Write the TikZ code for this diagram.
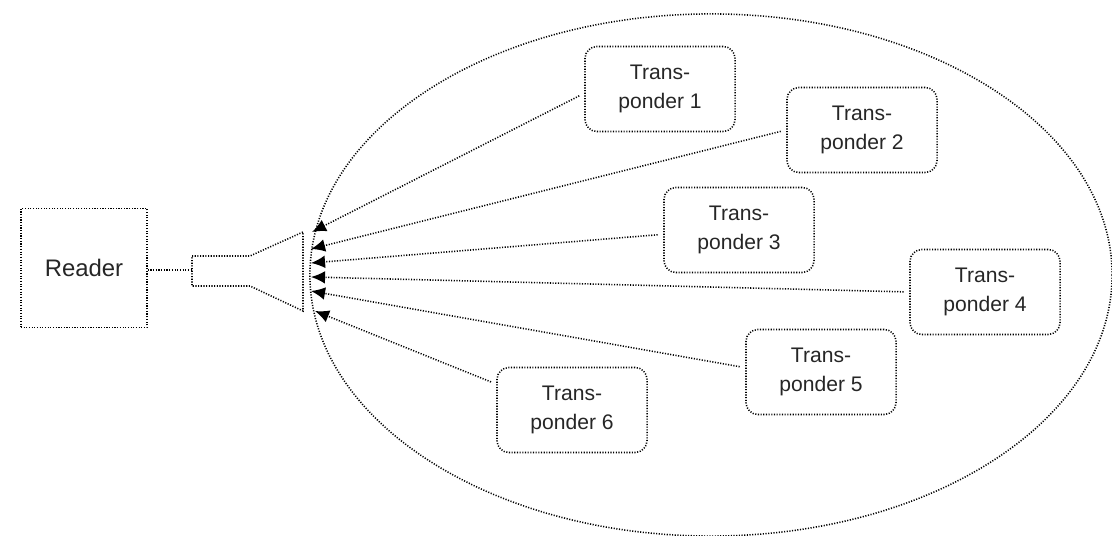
\documentclass[tikz,border=0pt]{standalone}
\usepackage{fontspec}
\setmainfont{Liberation Sans}
\usetikzlibrary{arrows.meta,calc}
\begin{document}
\begin{tikzpicture}[x=0.025cm,y=-0.025cm,
  dotline/.style={draw=black,line width=1.1pt,dash pattern=on 0.8pt off 1.1pt},
  tbox/.style={dotline,rounded corners=0.3cm,minimum width=3.75cm,minimum height=2.125cm,
     align=center,font=\fontsize{15}{21}\selectfont,text=black!85,inner sep=0pt},
  conn/.style={dotline,-{Latex[length=10pt,width=9pt]},shorten <=4pt}]
\useasboundingbox (0,0) rectangle (1112,536);
% field ellipse
\draw[dotline] (711,275) ellipse [x radius=10.025cm, y radius=6.525cm];
% reader
\node[dotline,minimum width=3.15cm,minimum height=2.975cm,font=\fontsize{17}{20}\selectfont,text=black!85]
  (reader) at (84,268) {Reader};
% antenna horn
\draw[dotline] (192,256) -- (250,256) -- (303,232) -- (303,311) -- (250,286) -- (192,286) -- cycle;
\coordinate (hornL) at (192,270);
\draw[dotline] (reader.east |- hornL) -- (hornL);
% transponders
\node[tbox] (T1) at (660,89) {Trans-\\ponder 1};
\node[tbox] (T2) at (862,130) {Trans-\\ponder 2};
\node[tbox] (T3) at (739,230) {Trans-\\ponder 3};
\node[tbox] (T4) at (985,292) {Trans-\\ponder 4};
\node[tbox] (T5) at (821,372) {Trans-\\ponder 5};
\node[tbox] (T6) at (572,410) {Trans-\\ponder 6};
% arrow tips at the antenna
\coordinate (a1) at (312,232);
\coordinate (a2) at (311,249);
\coordinate (a3) at (311,263);
\coordinate (a4) at (311,277);
\coordinate (a5) at (311,291);
\coordinate (a6) at (315,311);
\draw[conn] ($(T1.north west)!0.55!(T1.south west)$) -- (a1);
\draw[conn] (T2.west) -- (a2);
\draw[conn] ($(T3.north west)!0.55!(T3.south west)$) -- (a3);
\draw[conn] (T4.west) -- (a4);
\draw[conn] ($(T5.north west)!0.45!(T5.south west)$) -- (a5);
\draw[conn] ($(T6.north west)!0.2!(T6.south west)$) -- (a6);
\end{tikzpicture}
\end{document}
